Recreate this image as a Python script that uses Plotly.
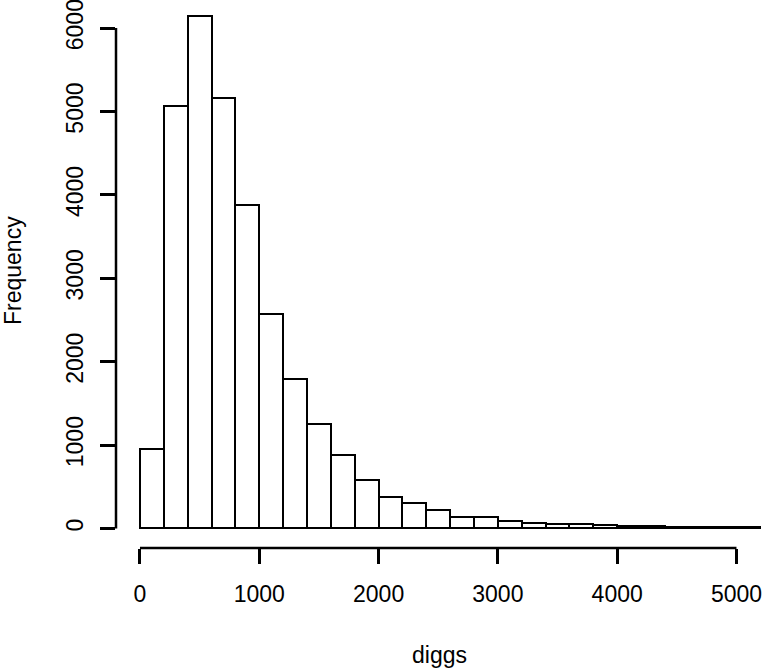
import plotly.graph_objects as go

bin_starts = [0, 200, 400, 600, 800, 1000, 1200, 1400, 1600, 1800, 2000, 2200, 2400,
              2600, 2800, 3000, 3200, 3400, 3600, 3800, 4000, 4200, 4400, 4600, 4800, 5000]
counts = [953, 5070, 6141, 5162, 3883, 2572, 1789, 1253, 887, 585, 374, 306, 222,
          141, 138, 90, 66, 50, 50, 40, 30, 28, 18, 15, 14, 12]
bin_width = 200
x_ticks = [0, 1000, 2000, 3000, 4000, 5000]
y_ticks = [0, 1000, 2000, 3000, 4000, 5000, 6000]

centers = [s + bin_width / 2 for s in bin_starts]

FONT = "Liberation Sans, Arial, Helvetica, sans-serif"

fig = go.Figure()
fig.add_trace(go.Bar(
    x=centers, y=counts, width=[bin_width] * len(centers),
    marker=dict(color="white", line=dict(color="black", width=2)),
    showlegend=False, hoverinfo="x+y",
))

fig.update_layout(
    width=765, height=671,
    margin=dict(l=116, r=3, t=0, b=123),
    paper_bgcolor="white", plot_bgcolor="white",
    font=dict(family=FONT, size=23, color="black"),
    bargap=0,
    xaxis=dict(
        range=[-201, 5214], showgrid=False, zeroline=False, showline=False,
        tickmode="array", tickvals=x_ticks, ticktext=[str(v) for v in x_ticks],
        ticks="outside", ticklen=15, tickwidth=2.5, tickcolor="black",
        ticklabelstandoff=10, ticklabeloverflow="allow",
    ),
    yaxis=dict(
        range=[-234, 6337], showgrid=False, zeroline=False, showline=False,
        tickmode="array", tickvals=y_ticks, ticktext=[str(v) for v in y_ticks],
        ticks="outside", ticklen=15, tickwidth=2.5, tickcolor="black",
        tickangle=-90, ticklabelstandoff=8, ticklabeloverflow="allow",
    ),
    shapes=[
        dict(type="line", xref="x", yref="paper", x0=x_ticks[0], x1=x_ticks[-1], y0=0, y1=0,
             line=dict(color="black", width=2.5)),
        dict(type="line", xref="paper", yref="y", x0=0, x1=0, y0=y_ticks[0], y1=y_ticks[-1],
             line=dict(color="black", width=2.5)),
    ],
    annotations=[
        dict(text="diggs", xref="paper", yref="paper", x=0.5, y=-(655 - 548) / 548,
             xanchor="center", yanchor="middle", showarrow=False, font=dict(size=23)),
        dict(text="Frequency", xref="paper", yref="paper", x=-(116 - 13) / 646, y=(548 - 271) / 548,
             xanchor="center", yanchor="middle", textangle=-90, showarrow=False, font=dict(size=23)),
    ],
)

fig.write_html("out.html", config={"displayModeBar": False},
               post_script="document.body.style.margin='0px';document.body.style.overflow='hidden';")
